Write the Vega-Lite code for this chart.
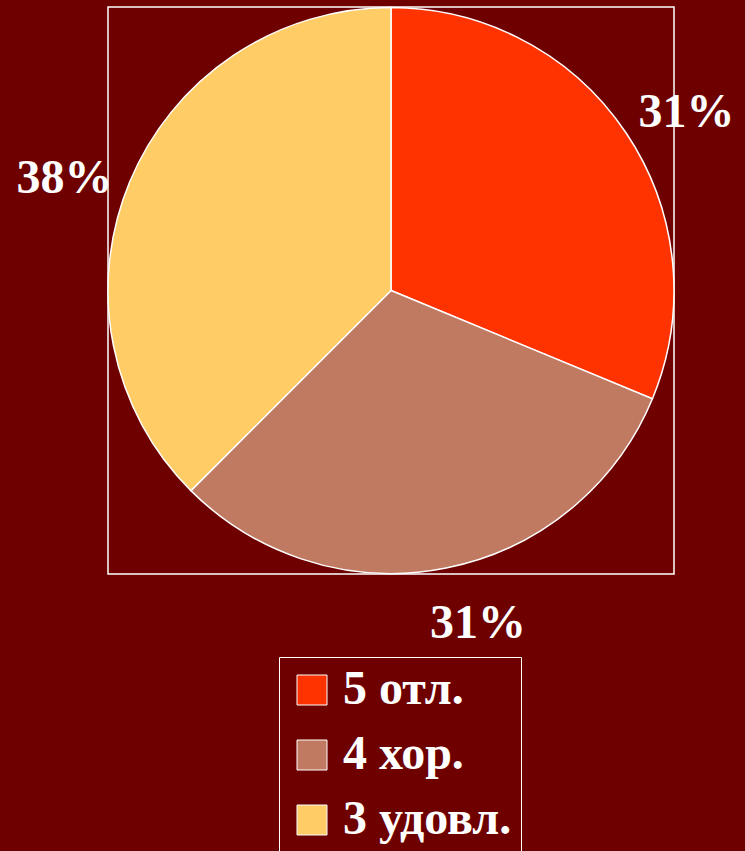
{
  "$schema": "https://vega.github.io/schema/vega-lite/v6.json",
  "width": 566,
  "height": 567,
  "autosize": {"type": "none"},
  "padding": {"left": 108, "top": 7, "right": 71, "bottom": 277},
  "background": "#6E0000",
  "config": {"view": {"stroke": null}},
  "data": {
    "values": [
      {"grade": "5 отл.", "count": 5, "pct": "31%", "ord": 1, "labelPos": 2.62},
      {"grade": "4 хор.", "count": 5, "pct": "31%", "ord": 2, "labelPos": 7.35},
      {"grade": "3 удовл.", "count": 6, "pct": "38%", "ord": 3, "labelPos": 12.84}
    ]
  },
  "layer": [
    {
      "data": {"values": [{"frame": 1}]},
      "mark": {"type": "rect", "fill": null, "stroke": "#FFFFFF", "strokeWidth": 1.5},
      "encoding": {
        "x": {"value": 0},
        "x2": {"value": "width"},
        "y": {"value": 0},
        "y2": {"value": "height"}
      }
    },
    {
      "mark": {"type": "arc", "outerRadius": 283, "stroke": "#FFFFFF", "strokeWidth": 1.5},
      "encoding": {
        "theta": {"field": "count", "type": "quantitative", "stack": true},
        "order": {"field": "ord", "type": "quantitative"},
        "color": {
          "field": "grade",
          "type": "nominal",
          "sort": ["5 отл.", "4 хор.", "3 удовл."],
          "scale": {"domain": ["5 отл.", "4 хор.", "3 удовл."], "range": ["#FF3300", "#C07A62", "#FFCC66"]},
          "legend": {
            "orient": "none",
            "legendX": 171,
            "legendY": 650,
            "title": null,
            "padding": 9,
            "strokeColor": "#FFFFFF",
            "symbolType": "square",
            "symbolSize": 900,
            "symbolOpacity": 1,
            "symbolStrokeColor": "#FFFFFF",
            "symbolStrokeWidth": 1,
            "labelFont": "Liberation Serif",
            "labelFontSize": 48,
            "labelFontWeight": "bold",
            "labelColor": "#FFFFFF",
            "labelOffset": 7,
            "labelLimit": 400,
            "rowPadding": 17
          }
        }
      }
    },
    {
      "mark": {"type": "text", "radius": 345, "font": "Liberation Serif", "fontSize": 48, "fontWeight": "bold", "fill": "#FFFFFF"},
      "encoding": {
        "theta": {"field": "labelPos", "type": "quantitative", "stack": null},
        "text": {"field": "pct", "type": "nominal"}
      }
    }
  ]
}
